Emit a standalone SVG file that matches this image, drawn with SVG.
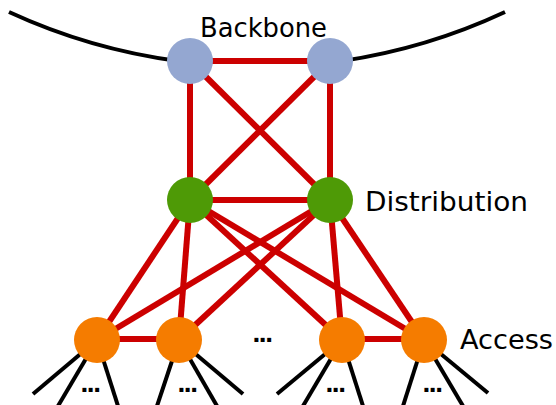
<svg xmlns="http://www.w3.org/2000/svg" width="556" height="405" viewBox="0 0 556 405">
<style>
.red{stroke:#CC0000;stroke-width:6;fill:none;stroke-linecap:butt}
.blk{stroke:#000;stroke-width:4;fill:none}
.lbl{font-family:"DejaVu Sans","Liberation Sans",sans-serif;font-size:26px;fill:#000}
.dots{font-family:"Liberation Sans",Arial,sans-serif;font-size:28px;font-weight:bold;fill:#000;letter-spacing:-1.4px}
.bb{fill:#94A7D1}
.ds{fill:#4E9A06}
.ac{fill:#F57C00}
</style>
<rect width="556" height="405" fill="#fff"/>
<g id="connectors">
  <path class="blk" d="M9 12 A589 589 0 0 0 178 61"/>
  <path class="blk" d="M342 61 A589 589 0 0 0 505 12"/>
  <g class="blk">
    <line x1="97" y1="340" x2="33" y2="394"/>
    <line x1="97" y1="340" x2="58" y2="406"/>
    <line x1="97" y1="340" x2="118" y2="406"/>
    <line x1="179" y1="340" x2="157" y2="406"/>
    <line x1="179" y1="340" x2="217" y2="406"/>
    <line x1="179" y1="340" x2="243" y2="394"/>
    <line x1="342" y1="340" x2="277" y2="394"/>
    <line x1="342" y1="340" x2="303" y2="406"/>
    <line x1="342" y1="340" x2="363" y2="406"/>
    <line x1="424" y1="340" x2="403" y2="406"/>
    <line x1="424" y1="340" x2="463" y2="406"/>
    <line x1="424" y1="340" x2="488" y2="393"/>
  </g>
  <g class="red">
    <line x1="190" y1="61" x2="330" y2="61"/>
    <line x1="190" y1="61" x2="190" y2="200"/>
    <line x1="330" y1="61" x2="330" y2="200"/>
    <line x1="190" y1="61" x2="330" y2="200"/>
    <line x1="330" y1="61" x2="190" y2="200"/>
    <line x1="190" y1="200" x2="330" y2="200"/>
    <line x1="190" y1="200" x2="97" y2="340"/>
    <line x1="190" y1="200" x2="179" y2="340"/>
    <line x1="190" y1="200" x2="342" y2="340"/>
    <line x1="190" y1="200" x2="424" y2="340"/>
    <line x1="330" y1="200" x2="97" y2="340"/>
    <line x1="330" y1="200" x2="179" y2="340"/>
    <line x1="330" y1="200" x2="342" y2="340"/>
    <line x1="330" y1="200" x2="424" y2="340"/>
    <line x1="97" y1="339" x2="179" y2="339"/>
    <line x1="342" y1="339" x2="424" y2="339"/>
  </g>
</g>
<g id="backbone-left"><circle class="bb" cx="190" cy="61" r="23"/></g>
<g id="backbone-right"><circle class="bb" cx="330" cy="61" r="23"/></g>
<g id="distribution-left"><circle class="ds" cx="190" cy="200" r="23"/></g>
<g id="distribution-right"><circle class="ds" cx="330" cy="200" r="23"/></g>
<g id="access-1"><circle class="ac" cx="97" cy="340" r="23"/></g>
<g id="access-2"><circle class="ac" cx="179" cy="340" r="23"/></g>
<g id="access-3"><circle class="ac" cx="342" cy="340" r="23"/></g>
<g id="access-4"><circle class="ac" cx="424" cy="340" r="23"/></g>
<g id="labels">
  <text class="lbl" x="200" y="36.5" textLength="127" lengthAdjust="spacingAndGlyphs">Backbone</text>
  <text class="lbl" x="365" y="211" textLength="163" lengthAdjust="spacingAndGlyphs">Distribution</text>
  <text class="lbl" x="460" y="349" textLength="93" lengthAdjust="spacingAndGlyphs">Access</text>
  <text class="dots" x="262" y="342" text-anchor="middle">...</text>
  <text class="dots" x="90" y="392" text-anchor="middle">...</text>
  <text class="dots" x="187" y="392" text-anchor="middle">...</text>
  <text class="dots" x="335" y="392" text-anchor="middle">...</text>
  <text class="dots" x="432" y="392" text-anchor="middle">...</text>
</g>
</svg>
